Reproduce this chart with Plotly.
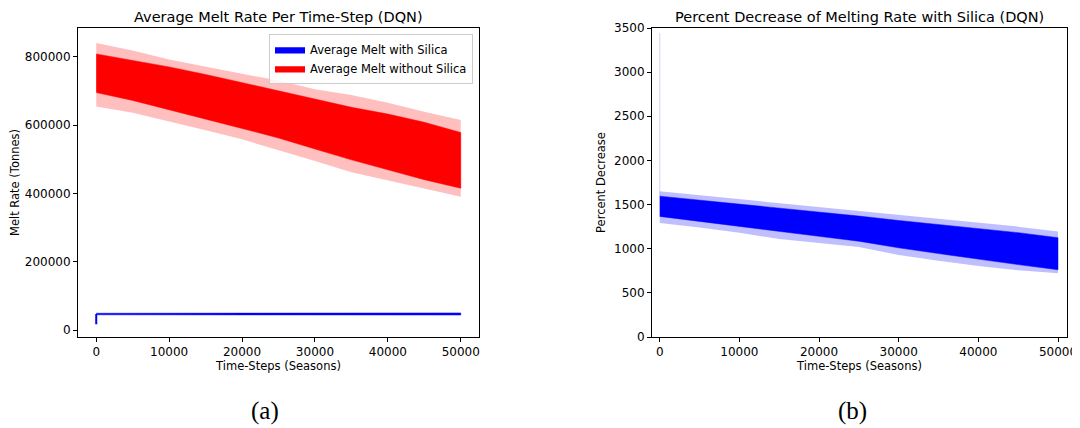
import plotly.graph_objects as go

# ---------------- data ----------------
steps = [0, 5000, 10000, 15000, 20000, 25000, 30000, 35000, 40000, 45000, 50000]

# Left panel: average melt without silica (noisy band envelopes)
melt_nosil_outer_hi = [840000, 818000, 792000, 770000, 750000, 730000, 705000, 688000, 665000, 639000, 615000]
melt_nosil_hi       = [808000, 790000, 770000, 748000, 724000, 700000, 674000, 652000, 632000, 608000, 578000]
melt_nosil_lo       = [695000, 672000, 645000, 618000, 590000, 562000, 530000, 498000, 468000, 440000, 415000]
melt_nosil_outer_lo = [654000, 636000, 610000, 585000, 558000, 527000, 495000, 462000, 438000, 414000, 390000]

# Left panel: average melt with silica (thin band) and its first value
melt_sil_hi = [49000, 49000, 49200, 49500, 49800, 50000, 50000, 50000, 50200, 50000, 50000]
melt_sil_lo = [44500, 44500, 44500, 44300, 44000, 43800, 43800, 43800, 43600, 43800, 43800]
melt_sil_first_step = [0, 0]
melt_sil_first = [16700, 46800]

# Right panel: percent decrease (noisy band envelopes)
pct_outer_hi = [1650, 1605, 1560, 1515, 1478, 1430, 1385, 1335, 1290, 1250, 1196]
pct_hi       = [1595, 1550, 1505, 1460, 1420, 1370, 1320, 1272, 1228, 1182, 1125]
pct_lo       = [1366, 1305, 1250, 1195, 1140, 1085, 1010, 945, 880, 820, 762]
pct_outer_lo = [1290, 1240, 1180, 1110, 1065, 1020, 930, 865, 805, 755, 722]
pct_spike_step = [0, 0]
pct_spike = [1590, 3443]

left_xticks = [0, 10000, 20000, 30000, 40000, 50000]
left_yticks = [0, 200000, 400000, 600000, 800000]
right_yticks = [0, 500, 1000, 1500, 2000, 2500, 3000, 3500]

RED = "#ff0000"
BLUE = "#0000ff"
FONT = "DejaVu Sans"
TICK = 12
LAB = 11.5
TITLE = 14.5

# The page body has an 8px margin; the figure fills the rest of the window.
OFF = 8
W = 1080.0 - OFF
H = 428.0 - OFF


def px(x):
    return (x - OFF) / W


def py(y):
    return (H - (y - OFF)) / H


def band(xs, hi, lo):
    return list(xs) + list(xs)[::-1], list(hi) + list(lo)[::-1]


fig = go.Figure()

# ---- left panel ----
bx, by = band(steps, melt_sil_hi, melt_sil_lo)
fig.add_trace(go.Scatter(x=bx, y=by, fill="toself", fillcolor=BLUE, mode="lines",
                         line=dict(color=BLUE, width=0.5), name="Average Melt with Silica",
                         xaxis="x", yaxis="y", hoverinfo="skip"))
fig.add_trace(go.Scatter(x=melt_sil_first_step, y=melt_sil_first, mode="lines",
                         line=dict(color=BLUE, width=2), showlegend=False,
                         xaxis="x", yaxis="y", hoverinfo="skip"))
ox, oy = band(steps, melt_nosil_outer_hi, melt_nosil_outer_lo)
fig.add_trace(go.Scatter(x=ox, y=oy, fill="toself", fillcolor="rgba(255,0,0,0.25)", mode="lines",
                         line=dict(width=0), showlegend=False,
                         xaxis="x", yaxis="y", hoverinfo="skip"))
dx, dy = band(steps, melt_nosil_hi, melt_nosil_lo)
fig.add_trace(go.Scatter(x=dx, y=dy, fill="toself", fillcolor=RED, mode="lines",
                         line=dict(color=RED, width=0.5), name="Average Melt without Silica",
                         xaxis="x", yaxis="y", hoverinfo="skip"))

# ---- right panel ----
ax_, ay_ = band(steps, pct_outer_hi, pct_outer_lo)
fig.add_trace(go.Scatter(x=ax_, y=ay_, fill="toself", fillcolor="rgba(0,0,255,0.25)", mode="lines",
                         line=dict(width=0), showlegend=False,
                         xaxis="x2", yaxis="y2", hoverinfo="skip"))
qx, qy = band(steps, pct_hi, pct_lo)
fig.add_trace(go.Scatter(x=qx, y=qy, fill="toself", fillcolor=BLUE, mode="lines",
                         line=dict(color=BLUE, width=0.5), showlegend=False,
                         xaxis="x2", yaxis="y2", hoverinfo="skip"))
fig.add_trace(go.Scatter(x=pct_spike_step, y=pct_spike, mode="lines",
                         line=dict(color="rgba(0,0,255,0.15)", width=1.2), showlegend=False,
                         xaxis="x2", yaxis="y2", hoverinfo="skip"))

ydom = [py(337), py(28)]

axis_common = dict(showgrid=False, zeroline=False, showline=True, mirror=True,
                   linecolor="black", linewidth=1, ticks="outside", ticklen=4,
                   tickcolor="black", tickwidth=1, automargin=False,
                   tickfont=dict(family=FONT, size=TICK, color="black"))

fig.update_layout(
    width=int(W), height=int(H),
    margin=dict(l=0, r=0, t=0, b=0, autoexpand=False),
    paper_bgcolor="white", plot_bgcolor="white",
    font=dict(family=FONT, size=LAB, color="black"),
    xaxis=dict(domain=[px(78), px(479)], range=[-2500, 52500], anchor="y",
               tickvals=left_xticks, ticktext=[str(v) for v in left_xticks],
               title=dict(text="Time-Steps (Seasons)", font=dict(family=FONT, size=LAB), standoff=2),
               **axis_common),
    yaxis=dict(domain=ydom, range=[-20500, 884000], anchor="x",
               tickvals=left_yticks, ticktext=[str(v) for v in left_yticks],
               title=dict(text="Melt Rate (Tonnes)", font=dict(family=FONT, size=LAB), standoff=6),
               **axis_common),
    xaxis2=dict(domain=[px(652), px(1067)], range=[-970, 51130], anchor="y2",
                tickvals=left_xticks, ticktext=[str(v) for v in left_xticks],
                title=dict(text="Time-Steps (Seasons)", font=dict(family=FONT, size=LAB), standoff=2),
                **axis_common),
    yaxis2=dict(domain=ydom, range=[0, 3500], anchor="x2",
                tickvals=right_yticks, ticktext=[str(v) for v in right_yticks],
                title=dict(text="Percent Decrease", font=dict(family=FONT, size=LAB), standoff=6),
                **axis_common),
    legend=dict(x=px(473), y=py(34), xanchor="right", yanchor="top",
                bgcolor="rgba(255,255,255,0.8)", bordercolor="#cccccc", borderwidth=1,
                font=dict(family=FONT, size=11.5, color="black"),
                itemwidth=30, tracegroupgap=0),
    showlegend=True,
    annotations=[
        dict(text="Average Melt Rate Per Time-Step (DQN)", x=px((78 + 479) / 2), y=py(17),
             xref="paper", yref="paper", showarrow=False, xanchor="center", yanchor="middle",
             font=dict(family=FONT, size=TITLE, color="black")),
        dict(text="Percent Decrease of Melting Rate with Silica (DQN)", x=px((652 + 1067) / 2), y=py(17),
             xref="paper", yref="paper", showarrow=False, xanchor="center", yanchor="middle",
             font=dict(family=FONT, size=TITLE, color="black")),
        dict(text="(a)", x=px(265), y=py(411), xref="paper", yref="paper", showarrow=False,
             xanchor="center", yanchor="middle",
             font=dict(family="Liberation Serif", size=25, color="black")),
        dict(text="(b)", x=px(852), y=py(411), xref="paper", yref="paper", showarrow=False,
             xanchor="center", yanchor="middle",
             font=dict(family="Liberation Serif", size=25, color="black")),
    ],
)

fig.write_html("out.html")
